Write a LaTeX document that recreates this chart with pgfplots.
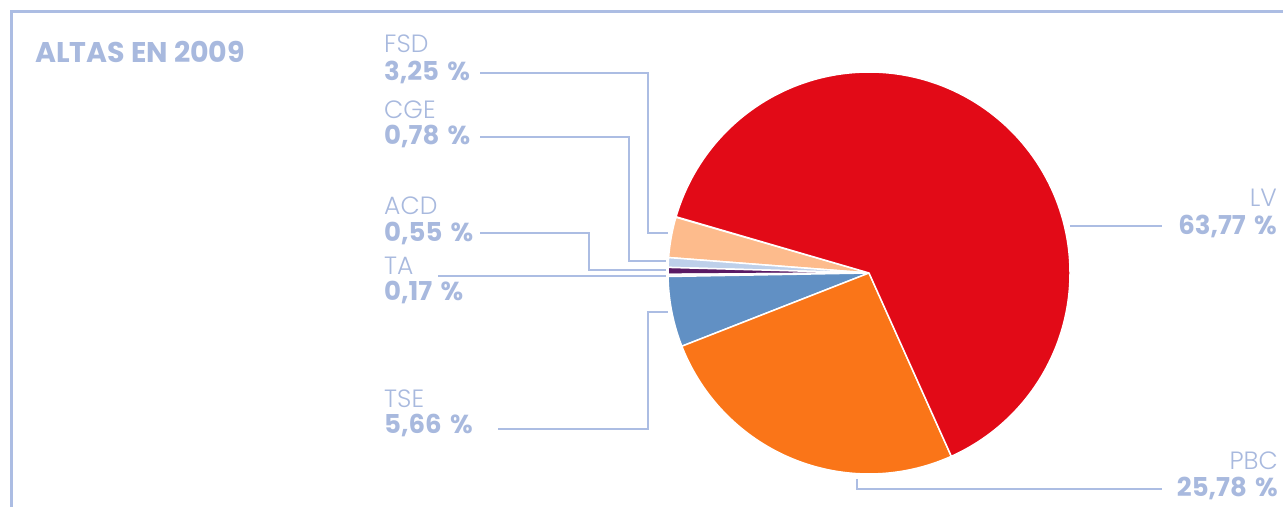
\documentclass[border=0pt]{standalone}
\usepackage{pgfplots}
\pgfplotsset{compat=1.18}
\usepackage{fontspec}
\setmainfont{Poppins}
\newfontfamily\lightfont{Poppins Light}
\definecolor{lvc}{RGB}{226,10,23}
\definecolor{pbcc}{RGB}{250,117,24}
\definecolor{tsec}{RGB}{97,144,196}
\definecolor{tac}{RGB}{225,232,245}
\definecolor{acdc}{RGB}{90,26,100}
\definecolor{cgec}{RGB}{190,208,234}
\definecolor{fsdc}{RGB}{253,187,140}
\definecolor{txt}{RGB}{168,185,222}
\definecolor{ln}{RGB}{172,189,227}
\begin{document}
\begin{tikzpicture}
% shares in percent
\pgfmathsetmacro\aA{163.9}
\pgfmathsetmacro\aB{\aA+3.25*3.6}
\pgfmathsetmacro\aC{\aB+0.78*3.6}
\pgfmathsetmacro\aD{\aC+0.55*3.6}
\pgfmathsetmacro\aE{\aD+0.17*3.6}
\pgfmathsetmacro\aF{\aE+5.66*3.6}
\pgfmathsetmacro\aG{\aF+25.78*3.6}
\pgfmathsetmacro\aH{\aG+63.77*3.6}
\newcommand\nm[1]{{\lightfont\fontsize{25}{30}\selectfont #1}}
\newcommand\vl[1]{{\bfseries\fontsize{26}{30}\selectfont #1}}
\newcommand\pc{\hspace{0.32em}\%}
\begin{axis}[
  width=1283pt, height=507pt, scale only axis,
  xmin=-869, xmax=414, ymin=-233, ymax=274,
  hide axis, clip=false,
]
\addplot[fill=fsdc, draw=white, line width=1.5pt, domain=\aA:\aB, samples=40] ({201*cos(x)},{1+201*sin(x)}) -- (axis cs:0,1) -- cycle;
\addplot[fill=cgec, draw=white, line width=1.5pt, domain=\aB:\aC, samples=10] ({201*cos(x)},{1+201*sin(x)}) -- (axis cs:0,1) -- cycle;
\addplot[fill=acdc, draw=white, line width=1.5pt, domain=\aC:\aD, samples=10] ({201*cos(x)},{1+201*sin(x)}) -- (axis cs:0,1) -- cycle;
\addplot[fill=tac, draw=white, line width=1.5pt, domain=\aD:\aE, samples=5] ({201*cos(x)},{1+201*sin(x)}) -- (axis cs:0,1) -- cycle;
\addplot[fill=tsec, draw=white, line width=1.5pt, domain=\aE:\aF, samples=30] ({201*cos(x)},{1+201*sin(x)}) -- (axis cs:0,1) -- cycle;
\addplot[fill=pbcc, draw=white, line width=1.5pt, domain=\aF:\aG, samples=90] ({201*cos(x)},{1+201*sin(x)}) -- (axis cs:0,1) -- cycle;
\addplot[fill=lvc, draw=white, line width=1.5pt, domain=\aG:\aH, samples=200] ({201*cos(x)},{1+201*sin(x)}) -- (axis cs:0,1) -- cycle;
% frame
\draw[ln, line width=3pt] (axis cs:-858,-233) -- (axis cs:-858,262) -- (axis cs:414,262);
% leaders
\draw[ln, line width=1.4pt] (axis cs:-389,201) -- (axis cs:-221,201) -- (axis cs:-221,41) -- (axis cs:-201,41);
\draw[ln, line width=1.4pt] (axis cs:-389,137) -- (axis cs:-240,137) -- (axis cs:-240,13) -- (axis cs:-203,13);
\draw[ln, line width=1.4pt] (axis cs:-389,41) -- (axis cs:-280,41) -- (axis cs:-280,4) -- (axis cs:-203,4);
\draw[ln, line width=1.4pt] (axis cs:-431,-2) -- (axis cs:-203,-2);
\draw[ln, line width=1.4pt] (axis cs:-371,-155) -- (axis cs:-221,-155) -- (axis cs:-221,-38) -- (axis cs:-201,-38);
\draw[ln, line width=1.4pt] (axis cs:201,48) -- (axis cs:293,48);
\draw[ln, line width=1.4pt] (axis cs:-12,-205) -- (axis cs:-12,-215) -- (axis cs:293,-215);
% texts
\node[anchor=base west, inner sep=0pt, text=txt] at (axis cs:-834,211) {\bfseries\fontsize{28.5}{32}\selectfont ALTAS EN 2009};
\node[anchor=base west, inner sep=0pt, text=txt] at (axis cs:-485,221) {\nm{FSD}};
\node[anchor=base west, inner sep=0pt, text=txt] at (axis cs:-485,193) {\vl{3,25\pc}};
\node[anchor=base west, inner sep=0pt, text=txt] at (axis cs:-485,155) {\nm{CGE}};
\node[anchor=base west, inner sep=0pt, text=txt] at (axis cs:-485,129) {\vl{0,78\pc}};
\node[anchor=base west, inner sep=0pt, text=txt] at (axis cs:-485,59) {\nm{ACD}};
\node[anchor=base west, inner sep=0pt, text=txt] at (axis cs:-485,32) {\vl{0,55\pc}};
\node[anchor=base west, inner sep=0pt, text=txt] at (axis cs:-485,-1) {\nm{TA}};
\node[anchor=base west, inner sep=0pt, text=txt] at (axis cs:-485,-27) {\vl{0,17\pc}};
\node[anchor=base west, inner sep=0pt, text=txt] at (axis cs:-485,-134) {\nm{TSE}};
\node[anchor=base west, inner sep=0pt, text=txt] at (axis cs:-485,-160) {\vl{5,66\pc}};
\node[anchor=base east, inner sep=0pt, text=txt] at (axis cs:408,67) {\nm{LV}};
\node[anchor=base east, inner sep=0pt, text=txt] at (axis cs:408,39) {\vl{63,77\pc}};
\node[anchor=base east, inner sep=0pt, text=txt] at (axis cs:409,-196) {\nm{PBC}};
\node[anchor=base east, inner sep=0pt, text=txt] at (axis cs:409,-223) {\vl{25,78\pc}};
\end{axis}
\pgfresetboundingbox
\path (current axis.south west) rectangle (current axis.north east);
\end{tikzpicture}
\end{document}
